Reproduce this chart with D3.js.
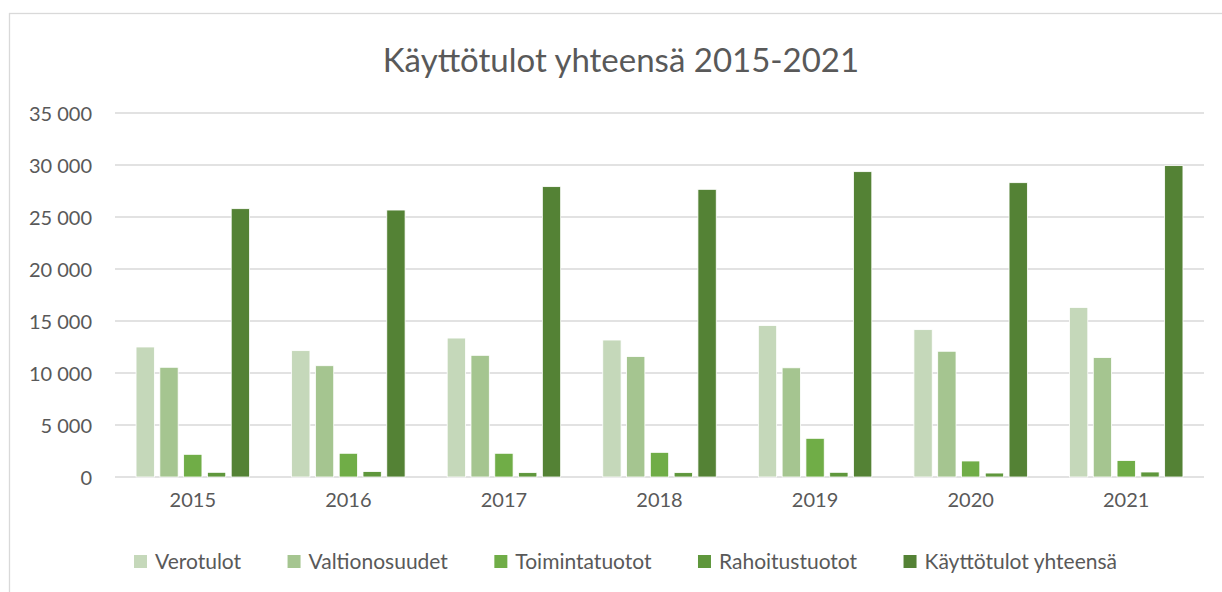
<!DOCTYPE html>
<html>
<head>
<meta charset="utf-8">
<script src="https://cdn.jsdelivr.net/npm/d3@7"></script>
<style>
  body { margin: 0; background: #fff; }
  svg { display: block; }
</style>
</head>
<body>
<div id="chart"></div>
<script>
// data
const years = ["2015", "2016", "2017", "2018", "2019", "2020", "2021"];
const seriesNames = ["Verotulot", "Valtionosuudet", "Toimintatuotot", "Rahoitustuotot", "Käyttötulot yhteensä"];
const verotulot = [12500, 12150, 13360, 13170, 14560, 14170, 16300];
const valtionosuudet = [10550, 10700, 11700, 11580, 10500, 12090, 11480];
const toimintatuotot = [2180, 2280, 2280, 2370, 3720, 1540, 1580];
const rahoitustuotot = [450, 520, 420, 420, 450, 380, 480];
const kayttotulot = [25800, 25670, 27920, 27660, 29360, 28300, 29940];
const yTicks = [0, 5000, 10000, 15000, 20000, 25000, 30000, 35000];
const colors = ["#c5d8ba", "#a5c590", "#70ad47", "#5f973c", "#548235"];

const seriesValues = [verotulot, valtionosuudet, toimintatuotot, rahoitustuotot, kayttotulot];

const width = 1222;
const height = 592;
const margin = { left: 115, right: 18, top: 113, bottom: 115 };
const fontFamily = "Lato, 'Open Sans', sans-serif";
const textColor = "#595959";

const fi = d3.formatLocale({ decimal: ",", thousands: "\u00a0", grouping: [3], currency: ["", " €"] });
const fmt = fi.format(",d");

const svg = d3.select("#chart")
  .append("svg")
  .attr("width", width)
  .attr("height", height)
  .attr("font-family", fontFamily);

// chart frame (runs off the right and bottom edge like the reference)
svg.append("rect")
  .attr("x", 9.5)
  .attr("y", 13.5)
  .attr("width", 1300)
  .attr("height", 700)
  .attr("fill", "#fff")
  .attr("stroke", "#d9d9d9")
  .attr("stroke-width", 1.3);

svg.append("text")
  .attr("x", 621)
  .attr("y", 72)
  .attr("text-anchor", "middle")
  .attr("font-size", "33px")
  .attr("fill", textColor)
  .text("Käyttötulot yhteensä 2015-2021");

const y = d3.scaleLinear()
  .domain([0, 35000])
  .range([height - margin.bottom, margin.top]);

const x0 = d3.scaleBand()
  .domain(years)
  .range([margin.left, width - margin.right]);

const x1 = d3.scaleBand()
  .domain(seriesNames)
  .range([0, x0.bandwidth()])
  .paddingInner(0.23)
  .paddingOuter(0.885);

// gridlines
svg.append("g")
  .selectAll("line")
  .data(yTicks)
  .join("line")
  .attr("x1", margin.left)
  .attr("x2", width - margin.right)
  .attr("y1", d => y(d))
  .attr("y2", d => y(d))
  .attr("stroke", "#d9d9d9")
  .attr("stroke-width", 1.4);

// y axis labels
const yAxis = svg.append("g")
  .attr("transform", `translate(${margin.left - 23},0)`)
  .call(d3.axisLeft(y).tickValues(yTicks).tickFormat(fmt).tickSize(0).tickPadding(0));
yAxis.select(".domain").remove();
yAxis.selectAll("text")
  .attr("font-family", fontFamily)
  .attr("font-size", "20px")
  .attr("fill", textColor)
  .attr("dy", "0.36em");

// bars
const groups = svg.append("g")
  .selectAll("g")
  .data(years)
  .join("g")
  .attr("transform", d => `translate(${x0(d)},0)`);

groups.selectAll("rect")
  .data((yr, i) => seriesNames.map((s, j) => ({ s: s, j: j, v: seriesValues[j][i] })))
  .join("rect")
  .attr("x", d => x1(d.s))
  .attr("width", x1.bandwidth())
  .attr("y", d => y(d.v))
  .attr("height", d => y(0) - y(d.v))
  .attr("fill", d => colors[d.j])
  .attr("stroke", "#ffffff")
  .attr("stroke-width", 0.8);

// x axis labels
const xAxis = svg.append("g")
  .attr("transform", `translate(0,${height - margin.bottom + 11})`)
  .call(d3.axisBottom(x0).tickSize(0).tickPadding(0));
xAxis.select(".domain").remove();
xAxis.selectAll("text")
  .attr("font-family", fontFamily)
  .attr("font-size", "20px")
  .attr("fill", textColor)
  .attr("dy", "0.95em");

// legend, laid out from measured text widths to span the same width as the reference
const legend = svg.append("g");
const items = legend.selectAll("g")
  .data(seriesNames)
  .join("g");

items.append("rect")
  .attr("y", 555)
  .attr("width", 13)
  .attr("height", 13)
  .attr("fill", (d, i) => colors[i]);

items.append("text")
  .attr("x", 21)
  .attr("y", 568.5)
  .attr("font-size", "21px")
  .attr("fill", textColor)
  .text(d => d);

const legendLeft = 134;
const legendRight = 1117;
const widths = [];
items.each(function () {
  widths.push(21 + d3.select(this).select("text").node().getComputedTextLength());
});
const gap = (legendRight - legendLeft - d3.sum(widths)) / (widths.length - 1);
let pos = legendLeft;
const offsets = widths.map(w => { const p = pos; pos += w + gap; return p; });
items.attr("transform", (d, i) => `translate(${offsets[i]},0)`);
</script>
</body>
</html>
